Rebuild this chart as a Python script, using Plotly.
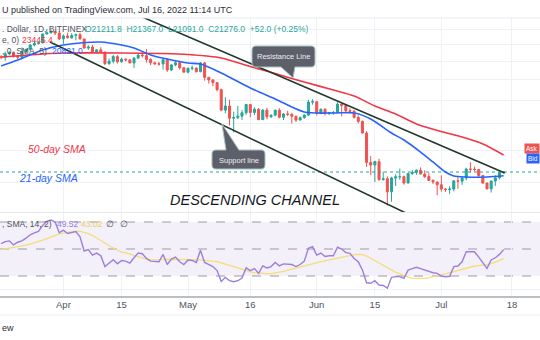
import math
import pandas as pd
import plotly.graph_objects as go

# ---------------- data: BTC/USD daily, Bitfinex, 17 Mar - 16 Jul 2022 ----------------
dates = pd.date_range("2022-03-17", "2022-07-16", freq="D")

opens = [
    41120, 40950, 41800, 42200, 41260, 41000, 42360, 42890, 43960, 44350, 44500, 46820, 47130, 47460, 47070,
    45530, 46300, 45820, 46420, 46620, 45520, 43200, 43450, 42260, 42770, 42160, 39520, 40080, 41150, 39940,
    40550, 40380, 39680, 40800, 41500, 41370, 40480, 39710, 39470, 39450, 40430, 38120, 39240, 39740, 38600,
    37640, 38470, 38530, 37750, 39690, 36550, 36010, 35470, 34060, 30300, 31020, 28940, 29050, 29280, 29860,
    31300, 29900, 30450, 28700, 30300, 29180, 29430, 30290, 29100, 29650, 29560, 29270, 28630, 29020, 29450, 31730,
    31790, 29800, 30450, 29700, 29860, 29900, 31370, 31130, 30210, 30110, 29080, 28420, 26580, 22480, 22140,
    22580, 20380, 20470, 19000, 20550, 20700, 20720, 19990, 21100, 21230, 21500, 21030, 20730, 20280, 20100,
    19780, 19300, 19250, 19300, 20230, 20190, 20550, 21640, 21600, 21590, 20860, 19970, 19330, 20210, 20580, 21211.8,
]
highs = [
    41480, 42320, 42400, 42300, 41550, 43360, 43020, 44220, 45090, 44800, 46900, 48190, 48100, 47700, 47600,
    46720, 47200, 47050, 46890, 47180, 45520, 43900, 43970, 42800, 43410, 42420, 40700, 41550, 41500, 40860,
    40700, 40590, 41100, 41750, 42170, 42980, 40790, 39980, 39940, 40600, 40790, 39450, 40320, 39900, 38790,
    38670, 39120, 38630, 39900, 39840, 36630, 36150, 35500, 34240, 32620, 32160, 30030, 31040, 30300, 31300,
    31300, 30780, 30650, 30500, 30700, 29600, 30400, 30640, 29800, 30200, 29850, 29350, 29230, 29550, 32150, 32250,
    31900, 30600, 30630, 29930, 30150, 31700, 31520, 31310, 30640, 30330, 29400, 28550, 26880, 23300, 22700,
    22960, 21330, 20750, 20700, 21000, 21700, 20850, 21180, 21500, 21580, 21850, 21500, 21180, 20400, 20150,
    20870, 19400, 19620, 20290, 20700, 20640, 21800, 22500, 21940, 21600, 20860, 20050, 20250, 20870, 21300, 21367.0,
]
lows = [
    40530, 40200, 41500, 40920, 40540, 40900, 41800, 42600, 43600, 44100, 44450, 46660, 46950, 46550, 45200,
    44250, 45650, 45550, 45150, 45380, 43120, 42730, 42120, 42120, 42000, 39200, 39250, 39600, 39550, 39770,
    40030, 39600, 38560, 40600, 40900, 39770, 39200, 39330, 39020, 38200, 37700, 37880, 38900, 38200, 37600,
    37390, 38050, 37560, 37620, 35860, 35260, 34760, 33720, 30200, 29760, 27750, 26700, 28770, 28650, 29500,
    29100, 29470, 28700, 28680, 28760, 28950, 29270, 28900, 28650, 29300, 28050, 28300, 28570, 28850, 29300, 31250,
    29400, 29600, 29380, 29500, 29500, 29880, 29250, 29850, 30000, 28880, 28100, 26550, 21900, 20900, 20100,
    20230, 20250, 17570, 17950, 19650, 20360, 19800, 19900, 20900, 20920, 21000, 20560, 20220, 19850, 18630,
    19020, 18980, 18780, 19040, 19320, 19770, 20280, 21200, 21340, 20670, 19900, 19250, 18920, 19650, 20400, 21091.0,
]
closes = [
    40950, 41800, 42200, 41260, 41000, 42360, 42890, 43960, 44350, 44500, 46820, 47130, 47460, 47070, 45530,
    46300, 45820, 46420, 46620, 45520, 43200, 43450, 42260, 42770, 42160, 39520, 40080, 41150, 39940, 40550,
    40380, 39680, 40800, 41500, 41370, 40480, 39710, 39470, 39450, 40430, 38120, 39240, 39740, 38600, 37640,
    38470, 38530, 37750, 39690, 36550, 36010, 35470, 34060, 30300, 31020, 28940, 29050, 29280, 29860, 31300,
    29900, 30450, 28700, 30300, 29180, 29430, 30290, 29100, 29650, 29560, 29270, 28630, 29020, 29450, 31730, 31790,
    29800, 30450, 29700, 29860, 29900, 31370, 31130, 30210, 30110, 29080, 28420, 26580, 22480, 22140, 22580,
    20380, 20470, 19000, 20550, 20700, 20720, 19990, 21100, 21230, 21500, 21030, 20730, 20280, 20100, 19780,
    19300, 19250, 19300, 20230, 20190, 20550, 21640, 21600, 21590, 20860, 19970, 19330, 20210, 20580, 21224, 21276.0,
]

# 50-day and 21-day simple moving averages
sma50_dates = ["2022-03-17", "2022-03-27", "2022-04-01", "2022-04-15", "2022-04-25", "2022-05-01",
               "2022-05-09", "2022-05-16", "2022-05-22", "2022-05-29", "2022-06-05", "2022-06-10",
               "2022-06-15", "2022-06-20", "2022-06-25", "2022-07-01", "2022-07-06", "2022-07-11", "2022-07-16"]
sma50_vals = [41040, 41770, 42000, 42000, 41880, 41640, 40830, 38870, 37340, 35570, 34000, 32850,
              31020, 29640, 28000, 26810, 25980, 24970, 23445.4]

sma21_dates = ["2022-03-17", "2022-03-21", "2022-03-27", "2022-04-01", "2022-04-05", "2022-04-10",
               "2022-04-15", "2022-04-18", "2022-04-22", "2022-04-26", "2022-05-01", "2022-05-04",
               "2022-05-09", "2022-05-16", "2022-05-22", "2022-05-29", "2022-06-05", "2022-06-10",
               "2022-06-14", "2022-06-19", "2022-06-22", "2022-06-26", "2022-06-29", "2022-07-02",
               "2022-07-04", "2022-07-07", "2022-07-12", "2022-07-16"]
sma21_vals = [39000, 40340, 42720, 43960, 44460, 44720, 43960, 43220, 41540, 40580, 39660, 39430,
              37470, 34390, 32300, 29980, 29810, 29810, 28810, 26590, 25550, 23850, 22530, 21276,
              20795, 20676, 20676, 20821.0]

# RSI(14) and its 14-period SMA
rsi = [
    54, 55.5, 56, 53, 55, 56, 58, 60.5, 62, 63, 67.5, 70.5, 71.5, 70, 62,
    64, 61.5, 62.5, 63, 59, 48.5, 49.5, 45.5, 47, 45, 37, 39.5, 42, 39, 41.5,
    41, 39.5, 43.5, 47, 46.5, 43, 41, 40.6, 40.5, 46, 38.5, 42.5, 44, 40.5, 38.5,
    41.8, 41.5, 40, 49, 40, 38.5, 37, 34, 26, 29, 26.5, 25.8, 26.5, 28.5, 36,
    34, 35.5, 32, 37.5, 36, 37, 40, 37.5, 39, 39, 38.5, 37, 38.5, 41, 50.5,
    51.7, 45.5, 47, 44.5, 45, 45, 51.3, 50, 47.3, 46.8, 43, 40.5, 34.5, 25, 24.6,
    26.5, 23.3, 23, 21, 29, 29.5, 29.5, 28.3, 34.4, 35.5, 36.5, 35.5, 34.4, 33, 32.4,
    32, 30, 29.5, 29.8, 36.9, 37.4, 40.5, 48, 48, 48, 44, 40, 35.7, 41.9, 43.5, 46, 49.52,
]
rsi_ma = [
    49.5, 50, 50.6, 51, 51.4, 52, 52.8, 53.6, 54.4, 55.4, 56.5, 57.7, 59, 60.4, 61.2,
    61.8, 62.3, 62.8, 63.2, 63, 62.2, 61.4, 60, 58.3, 56.6, 54.5, 52.4, 50.6, 49.3, 47.6,
    47.1, 46.2, 45.3, 44, 43.2, 42.5, 42, 41.9, 42, 42.2, 42.4, 42.4, 42.3, 42.4, 42.4,
    42.3, 42.2, 42, 41.9, 41.6, 41.3, 41, 40.6, 39.8, 39, 38, 37, 36, 35, 33.6,
    33, 32.5, 32.1, 31.9, 31.7, 31.8, 32.2, 32.7, 33.4, 34.3, 35, 35.8, 36.6, 37.4, 38,
    39, 39.9, 40.6, 41.3, 42, 42.7, 43.2, 43.9, 44.6, 45.5, 45.8, 46, 45.9, 44.8, 43,
    41.4, 39.5, 37.5, 36, 34.5, 32.8, 31.5, 30.3, 29.2, 28.4, 28.2, 28.2, 28.3, 28.8, 29.7,
    30.5, 31, 31.6, 32.4, 33.2, 34.1, 35, 35.9, 36.9, 37.4, 37.7, 38, 38.4, 39.2, 40.2, 41.5, 43.02,
]

# hand-drawn channel (two trend lines)
resistance_dates = ["2022-04-19 10:30", "2022-07-16 06:30"]
resistance_prices = [51880, 21155]
support_dates = ["2022-03-28 18:30", "2022-06-23 11:00"]
support_prices = [44711, 16642]

tick_dates = ["2022-04-01", "2022-04-15", "2022-05-01", "2022-05-16",
              "2022-06-01", "2022-06-15", "2022-07-01", "2022-07-18"]
tick_labels = ["Apr", "15", "May", "16", "Jun", "15", "Jul", "18"]
price_grid = [20000, 24000, 28000, 32000, 36000, 40000, 44000, 48000]
rsi_grid = [20, 40, 60]

# ---------------- styling ----------------
W, H = 540, 340
UP, DOWN = "#26a69a", "#ef5350"
GRID = "#eef1f6"
TXT = "#50535e"
FONT = "Liberation Sans, Arial, sans-serif"


def px_x(x):
    return x / W


def px_y(y):
    return 1 - y / H


day0 = pd.Timestamp("2022-04-01")
x_range = [day0 + pd.Timedelta(days=-15.27), day0 + pd.Timedelta(days=114.76)]

fig = go.Figure()

fig.add_trace(go.Candlestick(
    x=dates, open=opens, high=highs, low=lows, close=closes,
    increasing=dict(line=dict(color=UP, width=1), fillcolor=UP),
    decreasing=dict(line=dict(color=DOWN, width=1), fillcolor=DOWN),
    whiskerwidth=0, showlegend=False, hoverinfo="skip", xaxis="x", yaxis="y",
))

# last-price dotted line
fig.add_trace(go.Scatter(
    x=x_range, y=[closes[-1], closes[-1]], mode="lines",
    line=dict(color=UP, width=1, dash="dot"), showlegend=False, hoverinfo="skip",
    xaxis="x", yaxis="y",
))

fig.add_trace(go.Scatter(
    x=sma50_dates, y=sma50_vals, mode="lines",
    line=dict(color="#f23645", width=1.6, shape="spline", smoothing=0.8),
    showlegend=False, hoverinfo="skip", xaxis="x", yaxis="y",
))
fig.add_trace(go.Scatter(
    x=sma21_dates, y=sma21_vals, mode="lines",
    line=dict(color="#2962ff", width=1.6, shape="spline", smoothing=0.8),
    showlegend=False, hoverinfo="skip", xaxis="x", yaxis="y",
))

for dx, dy in ((resistance_dates, resistance_prices), (support_dates, support_prices)):
    fig.add_trace(go.Scatter(
        x=dx, y=dy, mode="lines", line=dict(color="#22392e", width=1.6),
        showlegend=False, hoverinfo="skip", xaxis="x", yaxis="y",
    ))

# RSI pane
fig.add_trace(go.Scatter(
    x=dates, y=rsi_ma, mode="lines", line=dict(color="#f5dd78", width=1.3),
    showlegend=False, hoverinfo="skip", xaxis="x2", yaxis="y2",
))
fig.add_trace(go.Scatter(
    x=dates, y=rsi, mode="lines", line=dict(color="#9c7fdc", width=1.4),
    showlegend=False, hoverinfo="skip", xaxis="x2", yaxis="y2",
))

shapes = [
    dict(type="rect", xref="paper", yref="y2", x0=0, x1=1, y0=30, y1=70,
         fillcolor="rgba(126,87,194,0.09)", line=dict(width=0), layer="below"),
]
for lvl in (30, 50, 70):
    shapes.append(dict(type="line", xref="paper", yref="y2", x0=0, x1=1, y0=lvl, y1=lvl,
                       line=dict(color="#9a9ca6", width=1, dash="dash"), layer="below"))
# pane separators / frame lines
for yy, col, wd in ((18, "#e6e9ef", 1), (212.5, "#e6e9ef", 1), (297, "#a6a9b2", 1.5), (315, "#eceef2", 1)):
    shapes.append(dict(type="line", xref="paper", yref="paper", x0=0, x1=1,
                       y0=px_y(yy), y1=px_y(yy), line=dict(color=col, width=wd)))


def callout(box, tip, base, pointer_down):
    L, T, R, B = box
    r = 4
    pts = []
    if pointer_down:
        seq = [("M", L + r, T), ("L", R - r, T), ("Q", R, T, R, T + r), ("L", R, B - r),
               ("Q", R, B, R - r, B), ("L", base[1], B), ("L", tip[0], tip[1]), ("L", base[0], B),
               ("L", L + r, B), ("Q", L, B, L, B - r), ("L", L, T + r), ("Q", L, T, L + r, T)]
    else:
        seq = [("M", L + r, T), ("L", base[0], T), ("L", tip[0], tip[1]), ("L", base[1], T),
               ("L", R - r, T), ("Q", R, T, R, T + r), ("L", R, B - r), ("Q", R, B, R - r, B),
               ("L", L + r, B), ("Q", L, B, L, B - r), ("L", L, T + r), ("Q", L, T, L + r, T)]
    for s in seq:
        if s[0] == "Q":
            pts.append(f"Q{px_x(s[1]):.5f},{px_y(s[2]):.5f} {px_x(s[3]):.5f},{px_y(s[4]):.5f}")
        else:
            pts.append(f"{s[0]}{px_x(s[1]):.5f},{px_y(s[2]):.5f}")
    return dict(type="path", xref="paper", yref="paper", path=" ".join(pts) + " Z",
                fillcolor="#5d606b", line=dict(color="#a9c2c2", width=1), layer="above")


shapes.append(callout((252, 46, 315, 67), (293, 78), (281, 295), True))
shapes.append(callout((212, 150, 265, 169), (222, 124), (226, 239), False))

ann = []


def text(x, y, s, size, color, anchor="left", italic=False, family=FONT, bg=None):
    d = dict(x=px_x(x), y=px_y(y), xref="paper", yref="paper", text=s, showarrow=False,
             xanchor=anchor, yanchor="middle",
             font=dict(size=size, color=color, family=family, style="italic" if italic else "normal"))
    if bg:
        d.update(bgcolor=bg, borderpad=1)
    ann.append(d)


# legend rows (left part of each row runs off the chart edge)
text(0, 10, "U published on TradingView.com, Jul 16, 2022 11:14 UTC", 9, "#2a2e39")
text(0, 29, ". Dollar, 1D, BITFINEX", 8.5, TXT)
text(83, 29, "O21211.8  H21367.0  L21091.0  C21276.0  +52.0 (+0.25%)", 8.5, UP)
text(0, 40, "e, 0)", 8.5, TXT)
text(20, 40, "23445.4", 8.5, "#f23645")
text(0, 51, ", 0, SMA, 5)", 8.5, TXT)
text(50, 51, "20821.0", 8.5, "#2962ff")
text(0, 224, ", SMA, 14, 2)", 8.5, TXT)
text(55, 224, "49.52", 8.5, "#9c7fdc")
text(79, 224, "43.02", 8.5, "#e8cf5a")
text(104, 224, "\u2205", 8.5, TXT)
text(118, 224, "\u2205", 8.5, TXT)

text(283.5, 57, "Resistance Line", 7.5, "#eceef2", anchor="center")
text(238.5, 160, "Support line", 7.5, "#eceef2", anchor="center")

text(26, 149, "50-day SMA", 10.5, "#f23645", italic=True)
text(17, 178, "21-day SMA", 10.5, "#2962ff", italic=True)
text(168, 200, "DESCENDING CHANNEL", 14.5, "#131722", italic=True)

# bid / ask tags at the right edge
text(540, 148, "Ask", 6.5, "#ffffff", anchor="right", bg="#ef5350")
text(540, 158, "Bid", 6.5, "#ffffff", anchor="right", bg="#2962ff")
text(0, 328, "ew", 9, "#2a2e39")

fig.update_layout(
    width=W, height=H, margin=dict(l=0, r=0, t=0, b=0),
    paper_bgcolor="white", plot_bgcolor="white",
    font=dict(family=FONT, size=9, color=TXT),
    showlegend=False,
    xaxis=dict(domain=[0, 1], anchor="y", type="date", range=x_range,
               tickvals=tick_dates, showticklabels=False, showgrid=True, gridcolor=GRID,
               zeroline=False, showline=False, ticks="", rangeslider=dict(visible=False)),
    xaxis2=dict(domain=[0, 1], anchor="y2", type="date", matches="x", range=x_range,
                tickvals=tick_dates, ticktext=tick_labels, showgrid=True, gridcolor=GRID,
                zeroline=False, showline=False, ticks="",
                tickfont=dict(size=9.5, color=TXT, family=FONT)),
    yaxis=dict(domain=[px_y(212), px_y(18)], anchor="x", type="log",
               range=[math.log10(16930), math.log10(51300)],
               tickvals=price_grid, showticklabels=False, showgrid=True, gridcolor=GRID,
               zeroline=False, showline=False, ticks=""),
    yaxis2=dict(domain=[px_y(297), px_y(213)], anchor="x2", range=[14.44, 76.67],
                tickvals=rsi_grid, showticklabels=False, showgrid=True, gridcolor=GRID,
                zeroline=False, showline=False, ticks=""),
    shapes=shapes,
    annotations=ann,
)

fig.write_html("out.html")
